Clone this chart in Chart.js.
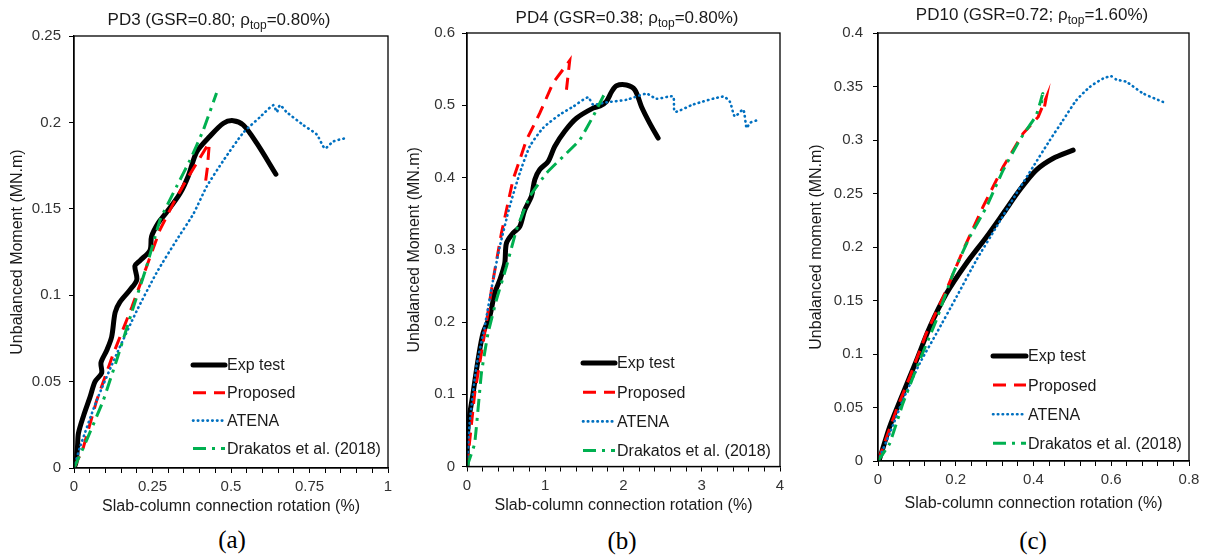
<!DOCTYPE html>
<html>
<head>
<meta charset="utf-8">
<script src="https://cdn.jsdelivr.net/npm/chart.js@4/dist/chart.umd.min.js"></script>
<style>
  body { margin: 0; background: #fff; width: 1207px; height: 558px; position: relative; overflow: hidden;
         font-family: "Liberation Sans", Arial, sans-serif; }
  .panel { position: absolute; top: 0; }
  .title { position: absolute; transform: translate(-50%, -50%); font-size: 17px; color: #1a1a1a; white-space: nowrap; }
  .title sub { font-size: 12px; line-height: 0; vertical-align: -4px; }
  .tag { position: absolute; transform: translate(-50%, -50%); font: 25px "Liberation Serif", "Times New Roman", serif; color: #000; }
</style>
</head>
<body>
<canvas id="pd3" class="panel" width="400" height="520" style="left:0"></canvas>
<canvas id="pd4" class="panel" width="400" height="520" style="left:400px"></canvas>
<canvas id="pd10" class="panel" width="407" height="520" style="left:800px"></canvas>

<div class="title" style="left:219px;top:20px">PD3 (GSR=0.80; ρ<sub>top</sub>=0.80%)</div>
<div class="title" style="left:627px;top:18px">PD4 (GSR=0.38; ρ<sub>top</sub>=0.80%)</div>
<div class="title" style="left:1032px;top:15px">PD10 (GSR=0.72; ρ<sub>top</sub>=1.60%)</div>

<div class="tag" style="left:232px;top:540px">(a)</div>
<div class="tag" style="left:622px;top:541px">(b)</div>
<div class="tag" style="left:1033px;top:541px">(c)</div>

<script>
// series: [rotation %, moment MN.m]
const SERIES_LABELS = ["Exp test", "Proposed", "ATENA", "Drakatos et al. (2018)"];

const PD3_EXP = [[0,0],[0.006,0.003],[0.011,0.012],[0.014,0.020],[0.030,0.030],[0.051,0.041],[0.067,0.050],[0.088,0.055],[0.086,0.061],[0.104,0.068],[0.120,0.076],[0.131,0.090],[0.146,0.096],[0.178,0.103],[0.200,0.109],[0.194,0.117],[0.210,0.120],[0.242,0.126],[0.247,0.134],[0.269,0.142],[0.295,0.148],[0.338,0.159],[0.364,0.169],[0.391,0.183],[0.433,0.192],[0.476,0.1995],[0.507,0.201],[0.539,0.1985],[0.582,0.188],[0.643,0.170]];
const PD3_PROP = [[0,0],[0.030,0.012],[0.072,0.039],[0.125,0.066],[0.184,0.093],[0.231,0.1165],[0.274,0.138],[0.316,0.153],[0.359,0.167],[0.396,0.178],[0.423,0.186],[0.431,0.188],[0.425,0.174],[0.417,0.163]];
const PD3_ATENA = [[0,0],[0.019,0.012],[0.072,0.039],[0.136,0.066],[0.200,0.091],[0.263,0.113],[0.327,0.132],[0.380,0.147],[0.423,0.163],[0.476,0.178],[0.539,0.194],[0.592,0.203],[0.635,0.210],[0.646,0.206],[0.656,0.210],[0.677,0.206],[0.730,0.1985],[0.773,0.193],[0.799,0.185],[0.826,0.189],[0.868,0.191]];
const PD3_DRAK = [[0,0],[0.040,0.016],[0.093,0.039],[0.136,0.0625],[0.189,0.093],[0.231,0.1165],[0.274,0.1435],[0.327,0.163],[0.369,0.178],[0.412,0.1956],[0.454,0.217]];

const PD4_EXP = [[0,0],[0.013,0.055],[0.077,0.101],[0.141,0.1475],[0.205,0.1845],[0.290,0.2075],[0.354,0.240],[0.418,0.258],[0.482,0.281],[0.504,0.309],[0.588,0.323],[0.674,0.332],[0.738,0.355],[0.823,0.374],[0.866,0.397],[0.930,0.411],[1.036,0.422],[1.121,0.443],[1.249,0.464],[1.399,0.482],[1.611,0.496],[1.700,0.499],[1.780,0.505],[1.850,0.519],[1.910,0.527],[2.038,0.528],[2.144,0.5215],[2.230,0.498],[2.336,0.475],[2.443,0.4545]];
const PD4_PROP = [[0,0],[0.098,0.101],[0.226,0.1845],[0.333,0.258],[0.440,0.323],[0.588,0.397],[0.760,0.452],[0.930,0.489],[1.100,0.531],[1.313,0.562],[1.271,0.5215]];
const PD4_ATENA = [[0,0],[0.034,0.060],[0.120,0.138],[0.226,0.1936],[0.333,0.258],[0.418,0.304],[0.546,0.360],[0.674,0.406],[0.802,0.443],[0.972,0.4685],[1.185,0.487],[1.355,0.498],[1.547,0.511],[1.611,0.501],[1.782,0.504],[2.038,0.5076],[2.294,0.516],[2.422,0.509],[2.634,0.512],[2.656,0.491],[2.890,0.501],[3.274,0.512],[3.359,0.505],[3.423,0.4845],[3.530,0.494],[3.573,0.4685],[3.615,0.4755],[3.700,0.479]];
const PD4_DRAK = [[0,0],[0.098,0.032],[0.184,0.129],[0.269,0.1845],[0.376,0.2306],[0.504,0.2767],[0.632,0.3275],[0.802,0.3737],[1.015,0.406],[1.228,0.429],[1.441,0.452],[1.611,0.4845],[1.739,0.512],[1.782,0.519]];

const PD10_EXP = [[0,0],[0.004,0.002],[0.030,0.032],[0.064,0.063],[0.099,0.094],[0.133,0.125],[0.176,0.1565],[0.227,0.1846],[0.279,0.2094],[0.322,0.2313],[0.364,0.253],[0.407,0.2718],[0.450,0.2827],[0.502,0.2905]];
const PD10_PROP = [[0,0],[0.047,0.0475],[0.082,0.0786],[0.124,0.119],[0.176,0.160],[0.219,0.197],[0.270,0.2375],[0.322,0.275],[0.373,0.306],[0.412,0.3216],[0.433,0.340],[0.425,0.325]];
const PD10_ATENA = [[0,0],[0.030,0.0257],[0.064,0.0568],[0.107,0.091],[0.150,0.119],[0.202,0.1534],[0.253,0.1877],[0.305,0.219],[0.356,0.250],[0.399,0.275],[0.442,0.2998],[0.476,0.3185],[0.510,0.337],[0.545,0.3496],[0.579,0.3575],[0.600,0.3596],[0.613,0.3565],[0.639,0.3543],[0.682,0.3435],[0.733,0.3356]];
const PD10_DRAK = [[0,0],[0.030,0.0163],[0.064,0.0537],[0.107,0.094],[0.150,0.1316],[0.193,0.175],[0.236,0.2094],[0.279,0.2375],[0.322,0.2718],[0.364,0.2998],[0.407,0.323],[0.424,0.3435],[0.420,0.3325]];

// axis ranges: [max, minor step, label step]
const PD3_X_TICKS = [1, 0.05, 0.25];
const PD3_Y_TICKS = [0.25, 0.05];
const PD4_X_TICKS = [4, 0.2, 1];
const PD4_Y_TICKS = [0.6, 0.1];
const PD10_X_TICKS = [0.8, 0.04, 0.2];
const PD10_Y_TICKS = [0.4, 0.05];

const FONT = '"Liberation Sans", Arial, sans-serif';
const TICK_COLOR = "#333333";

const frame = {
  id: "frame",
  afterDraw(chart) {
    const { ctx, chartArea: a } = chart;
    ctx.save();
    ctx.strokeStyle = "#000";
    ctx.lineWidth = 1.3;
    ctx.strokeRect(a.left, a.top, a.right - a.left, a.bottom - a.top);
    ctx.restore();
  },
};

const insideLegend = {
  id: "insideLegend",
  afterDraw(chart, args, opts) {
    const ctx = chart.ctx;
    ctx.save();
    chart.data.datasets.forEach((ds, i) => {
      const y = opts.y + i * opts.gap;
      ctx.beginPath();
      ctx.strokeStyle = ds.borderColor;
      ctx.lineWidth = ds.borderWidth;
      ctx.lineCap = ds.borderCapStyle || "butt";
      ctx.setLineDash(ds.borderDash || []);
      ctx.moveTo(opts.x, y);
      ctx.lineTo(opts.x + opts.len, y);
      ctx.stroke();
      ctx.setLineDash([]);
      ctx.fillStyle = "#1a1a1a";
      ctx.font = "16px " + FONT;
      ctx.textBaseline = "middle";
      ctx.fillText(ds.label, opts.x + opts.len + 2, y + 1);
    });
    ctx.restore();
  },
};

function fmt(v) {
  return String(Math.round(v * 1000) / 1000);
}

function toPts(arr) {
  return arr.map(([x, y]) => ({ x, y }));
}

function makePanel(id, p) {
  const [xMax, xStep, xLabel] = p.xTicks;
  const [yMax, yStep] = p.yTicks;
  const styles = [
    { borderColor: "#000000", borderWidth: 5, borderCapStyle: "round", tension: 0.3, order: 4 },
    { borderColor: "#FF0000", borderWidth: 3, borderDash: [13, 8], tension: 0, order: 3 },
    { borderColor: "#0070C0", borderWidth: 2.6, borderDash: [0.5, 4.3], borderCapStyle: "round", tension: 0.2, order: 2 },
    { borderColor: "#00B050", borderWidth: 3, borderDash: [13, 6, 3, 6], tension: 0.1, order: 1 },
  ];

  new Chart(document.getElementById(id), {
    type: "scatter",
    data: {
      datasets: p.series.map((s, i) => ({
        label: SERIES_LABELS[i],
        data: toPts(s),
        showLine: true,
        pointRadius: 0,
        fill: false,
        ...styles[i],
      })),
    },
    plugins: [frame, insideLegend],
    options: {
      responsive: false,
      animation: false,
      layout: { padding: p.pad },
      plugins: {
        legend: { display: false },
        tooltip: { enabled: false },
        insideLegend: p.legend,
      },
      scales: {
        x: {
          type: "linear",
          min: 0,
          max: xMax,
          afterFit: (s) => { s.height = p.xHeight; },
          border: { display: true, color: "#000", width: 1.3 },
          grid: { drawOnChartArea: false, drawTicks: true, tickLength: 5, color: "#000", lineWidth: 1 },
          ticks: {
            stepSize: xStep,
            autoSkip: false,
            maxRotation: 0,
            padding: 5,
            color: TICK_COLOR,
            font: { family: FONT, size: 15 },
            callback: (v) => {
              const r = v / xLabel;
              return Math.abs(r - Math.round(r)) < 1e-6 ? fmt(v) : "";
            },
          },
          title: {
            display: true,
            text: "Slab-column connection rotation (%)",
            color: "#1a1a1a",
            font: { family: FONT, size: 16 },
            padding: { top: 0, bottom: p.xTitlePad },
          },
        },
        y: {
          min: 0,
          max: yMax,
          afterFit: (s) => { s.width = p.yWidth; },
          border: { display: true, color: "#000", width: 1.3 },
          grid: { drawOnChartArea: false, drawTicks: true, tickLength: 5, color: "#000", lineWidth: 1 },
          ticks: {
            stepSize: yStep,
            padding: p.yTickPad,
            color: TICK_COLOR,
            font: { family: FONT, size: 15 },
            callback: (v) => fmt(v),
          },
          title: {
            display: true,
            text: p.yTitle,
            color: "#1a1a1a",
            font: { family: FONT, size: 16 },
            padding: { top: p.yTitlePad, bottom: 0 },
          },
        },
      },
    },
  });
}

makePanel("pd3", {
  series: [PD3_EXP, PD3_PROP, PD3_ATENA, PD3_DRAK],
  xTicks: PD3_X_TICKS,
  yTicks: PD3_Y_TICKS,
  yTitle: "Unbalanced Moment (MN.m)",
  pad: { left: 0, right: 12, top: 36, bottom: 0 },
  yWidth: 74,
  xHeight: 52,
  yTitlePad: 8,
  xTitlePad: 4,
  yTickPad: 8,
  legend: { x: 193, y: 365, gap: 27.8, len: 32 },
});

makePanel("pd4", {
  series: [PD4_EXP, PD4_PROP, PD4_ATENA, PD4_DRAK],
  xTicks: PD4_X_TICKS,
  yTicks: PD4_Y_TICKS,
  yTitle: "Unbalanced Moment (MN.m)",
  pad: { left: 0, right: 20, top: 33, bottom: 0 },
  yWidth: 67,
  xHeight: 53.5,
  yTitlePad: 5,
  xTitlePad: 5,
  yTickPad: 7,
  legend: { x: 183, y: 363, gap: 29.2, len: 32 },
});

makePanel("pd10", {
  series: [PD10_EXP, PD10_PROP, PD10_ATENA, PD10_DRAK],
  xTicks: PD10_X_TICKS,
  yTicks: PD10_Y_TICKS,
  yTitle: "Unbalanced moment (MN.m)",
  pad: { left: 0, right: 18, top: 33, bottom: 0 },
  yWidth: 78,
  xHeight: 59,
  yTitlePad: 7,
  xTitlePad: 6.5,
  yTickPad: 10,
  legend: { x: 193, y: 356, gap: 29.1, len: 33 },
});
</script>
</body>
</html>
